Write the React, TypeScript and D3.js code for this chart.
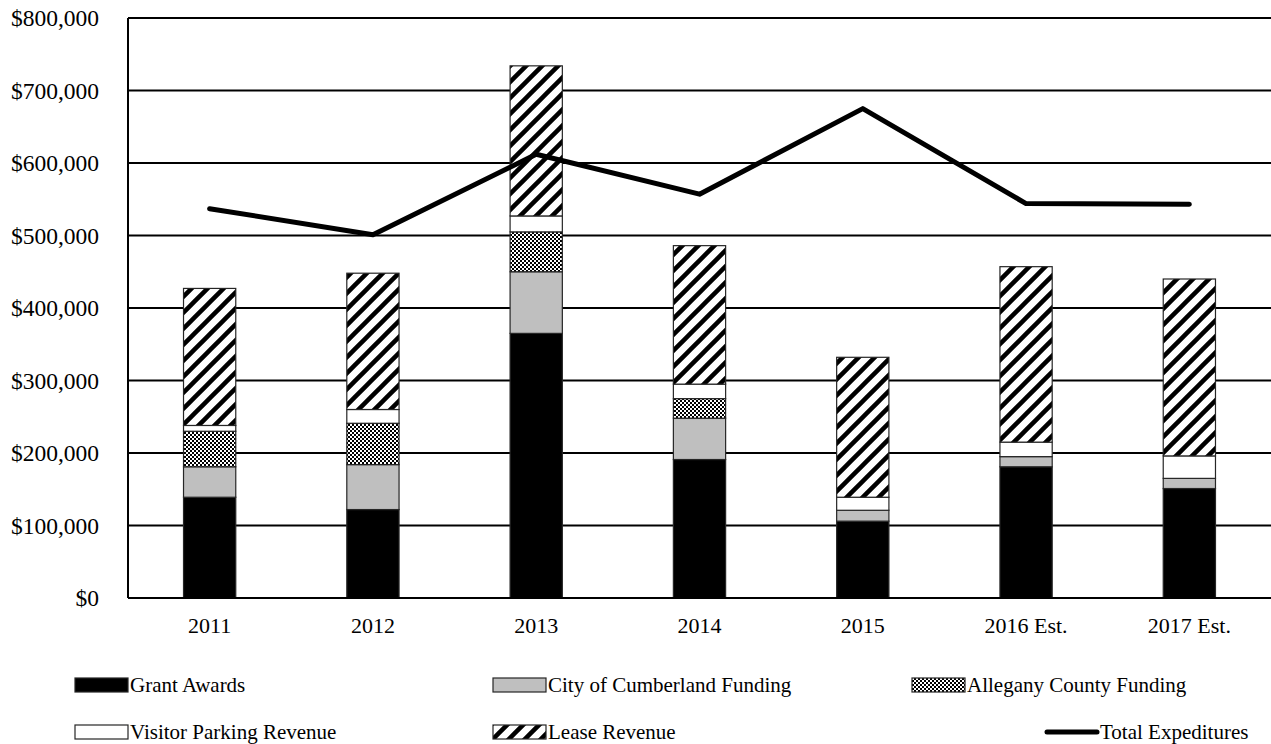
import React, { useEffect, useRef } from "react";
import * as d3 from "d3";

const years = ["2011", "2012", "2013", "2014", "2015", "2016 Est.", "2017 Est."];
const grantAwards = [139000, 122000, 365000, 191000, 106000, 181000, 151000];
const cityFunding = [42000, 62000, 85000, 57000, 15000, 14000, 14000];
const countyFunding = [49000, 57000, 55000, 27000, 0, 0, 0];
const visitorParking = [8000, 19000, 22000, 20000, 18000, 20000, 31000];
const leaseRevenue = [189000, 188000, 207000, 191000, 193000, 242000, 244000];
const totalExpenditures = [537000, 501000, 612000, 557000, 675000, 544000, 543000];
const yTicks = [0, 100000, 200000, 300000, 400000, 500000, 600000, 700000, 800000];

export default function App() {
  const ref = useRef<HTMLDivElement>(null);

  useEffect(() => {
    const width = 1271;
    const height = 744;
    const font = "'Liberation Serif', 'Times New Roman', serif";
    d3.select(ref.current).selectAll("*").remove();

    const svg = d3
      .select(ref.current)
      .append("svg")
      .attr("width", width)
      .attr("height", height)
      .style("position", "absolute")
      .style("left", "0px")
      .style("top", "0px")
      .style("font-family", font);

    svg.append("rect").attr("width", width).attr("height", height).attr("fill", "white");

    // patterns
    const defs = svg.append("defs");
    const check = defs
      .append("pattern")
      .attr("id", "check")
      .attr("patternUnits", "userSpaceOnUse")
      .attr("width", 4)
      .attr("height", 4);
    check.append("rect").attr("width", 4).attr("height", 4).attr("fill", "white");
    check.append("rect").attr("width", 2).attr("height", 2).attr("fill", "black");
    check.append("rect").attr("x", 2).attr("y", 2).attr("width", 2).attr("height", 2).attr("fill", "black");

    const hatch = defs
      .append("pattern")
      .attr("id", "hatch")
      .attr("patternUnits", "userSpaceOnUse")
      .attr("width", 16)
      .attr("height", 16);
    hatch.append("rect").attr("width", 16).attr("height", 16).attr("fill", "white");
    hatch
      .append("path")
      .attr("d", "M0,16 L16,0 M-4,4 L4,-4 M12,20 L20,12")
      .attr("stroke", "black")
      .attr("stroke-width", 4.5);

    const left = 128;
    const right = 1271;
    const top = 18;
    const bottom = 598;

    const x = d3.scaleBand().domain(years).range([left, right]).paddingInner(0.68).paddingOuter(0.34);
    const y = d3.scaleLinear().domain([0, 800000]).range([bottom, top]);

    // gridlines
    svg
      .append("g")
      .selectAll("line")
      .data(yTicks.slice(1))
      .enter()
      .append("line")
      .attr("x1", left)
      .attr("x2", right)
      .attr("y1", (d) => y(d))
      .attr("y2", (d) => y(d))
      .attr("stroke", "black")
      .attr("stroke-width", 2);

    // y labels
    svg
      .append("g")
      .selectAll("text")
      .data(yTicks)
      .enter()
      .append("text")
      .attr("x", 99)
      .attr("y", (d) => y(d))
      .attr("dy", "0.35em")
      .attr("text-anchor", "end")
      .attr("font-size", 23.5)
      .text((d) => "$" + d3.format(",")(d));

    // stacked bars
    const series = [
      { key: "Grant Awards", values: grantAwards, fill: "black" },
      { key: "City of Cumberland Funding", values: cityFunding, fill: "#bfbfbf" },
      { key: "Allegany County Funding", values: countyFunding, fill: "url(#check)" },
      { key: "Visitor Parking Revenue", values: visitorParking, fill: "white" },
      { key: "Lease Revenue", values: leaseRevenue, fill: "url(#hatch)" },
    ];
    const rows = years.map((yr, i) => {
      const r: any = { year: yr };
      series.forEach((s) => (r[s.key] = s.values[i]));
      return r;
    });
    const stacked = d3.stack().keys(series.map((s) => s.key))(rows);

    stacked.forEach((layer, li) => {
      svg
        .append("g")
        .selectAll("rect")
        .data(layer.filter((d) => d[1] - d[0] > 0))
        .enter()
        .append("rect")
        .attr("x", (d: any) => x(d.data.year)!)
        .attr("y", (d) => y(d[1]))
        .attr("width", x.bandwidth())
        .attr("height", (d) => y(d[0]) - y(d[1]))
        .attr("fill", series[li].fill)
        .attr("stroke", "#262626")
        .attr("stroke-width", 1.2);
    });

    // axes lines
    svg.append("line").attr("x1", left).attr("x2", left).attr("y1", top).attr("y2", bottom).attr("stroke", "black").attr("stroke-width", 2);
    svg.append("line").attr("x1", left).attr("x2", right).attr("y1", bottom).attr("y2", bottom).attr("stroke", "black").attr("stroke-width", 2);

    // x labels
    svg
      .append("g")
      .selectAll("text")
      .data(years)
      .enter()
      .append("text")
      .attr("x", (d) => x(d)! + x.bandwidth() / 2)
      .attr("y", 633)
      .attr("text-anchor", "middle")
      .attr("font-size", 22)
      .text((d) => d);

    // total line
    const line = d3
      .line<number>()
      .x((d, i) => x(years[i])! + x.bandwidth() / 2)
      .y((d) => y(d));
    svg
      .append("path")
      .datum(totalExpenditures)
      .attr("d", line)
      .attr("fill", "none")
      .attr("stroke", "black")
      .attr("stroke-width", 5)
      .attr("stroke-linejoin", "round")
      .attr("stroke-linecap", "round");

    // legend
    const legendItems = [
      ...series.map((s) => ({ key: s.key, fill: s.fill, line: false })),
      { key: "Total Expeditures", fill: "none", line: true },
    ];
    const legendX = [75, 493, 912, 75, 493, 1045];
    const rowY = [685, 732];
    legendItems.forEach((item, i) => {
      const lx = legendX[i];
      const ly = rowY[Math.floor(i / 3)];
      if (item.line) {
        svg
          .append("line")
          .attr("x1", lx + 2)
          .attr("x2", lx + 52)
          .attr("y1", ly)
          .attr("y2", ly)
          .attr("stroke", "black")
          .attr("stroke-width", 5)
          .attr("stroke-linecap", "round");
      } else {
        svg
          .append("rect")
          .attr("x", lx)
          .attr("y", ly - 7)
          .attr("width", 53)
          .attr("height", 14)
          .attr("fill", item.fill)
          .attr("stroke", "#262626")
          .attr("stroke-width", 1.2);
      }
      svg
        .append("text")
        .attr("x", lx + 55)
        .attr("y", ly)
        .attr("dy", "0.35em")
        .attr("font-size", 21)
        .text(item.key);
    });
  }, []);

  return <div ref={ref} />;
}
